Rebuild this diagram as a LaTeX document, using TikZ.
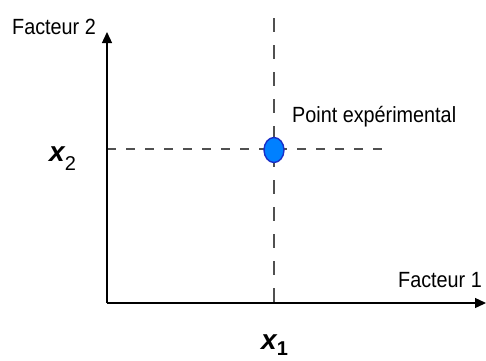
\documentclass[tikz,border=0pt]{standalone}
\usepackage{fontspec}
\setmainfont{Liberation Sans}
\newfontfamily\narrowfont[FakeStretch=0.9]{Liberation Sans}
\usetikzlibrary{arrows.meta,shapes.geometric}
\definecolor{ptfill}{HTML}{0080FF}
\definecolor{ptdraw}{HTML}{1A2FC8}
\definecolor{dashgray}{HTML}{505050}
\tikzset{
  axisline/.style={line width=1.3pt, black, -{Triangle[length=11pt,width=10pt]}},
  guidev/.style={line width=1.1pt, dashgray, dash pattern=on 14pt off 13pt},
  guideh/.style={line width=1.1pt, dashgray, dash pattern=on 9pt off 10pt},
  lbl/.style={inner sep=0pt, font=\narrowfont\fontsize{22}{22}\selectfont},
  varlbl/.style={inner sep=0pt, font=\fontsize{28}{28}\selectfont\bfseries\itshape},
  ptstyle/.style={ellipse, draw=ptdraw, fill=ptfill, line width=1.4pt, minimum width=20pt, minimum height=25pt, inner sep=0pt}
}
\begin{document}
\begin{tikzpicture}[x=1pt,y=-1pt]
\useasboundingbox (0,0) rectangle (486,360);
\coordinate (O) at (107,303);
\coordinate (ytop) at (107,32);
\coordinate (xend) at (486,303);
\coordinate (vtop) at (274,18);
\coordinate (vbot) at (274,303);
\coordinate (hleft) at (107,149);
\coordinate (hright) at (390,149);
\draw[guidev] (vtop) -- (vbot);
\draw[guideh] (hleft) -- (hright);
\draw[axisline] (O) -- (ytop);
\draw[axisline] (O) -- (xend);
\node[ptstyle] (pt) at (274,150) {};
\node[lbl, anchor=base west] (f2) at (12,34) {Facteur 2};
\node[lbl, anchor=base west] (pe) at (292,122) {Point expérimental};
\node[lbl, anchor=base east] (f1) at (482,287) {Facteur 1};
\node[varlbl, anchor=base west] (x2) at (49,161) {x\raisebox{-9pt}{\fontsize{20}{20}\selectfont\mdseries\upshape 2}};
\node[varlbl, anchor=base west] (x1) at (261,349) {x\raisebox{-6pt}{\fontsize{20}{20}\selectfont\upshape 1}};
\end{tikzpicture}
\end{document}
